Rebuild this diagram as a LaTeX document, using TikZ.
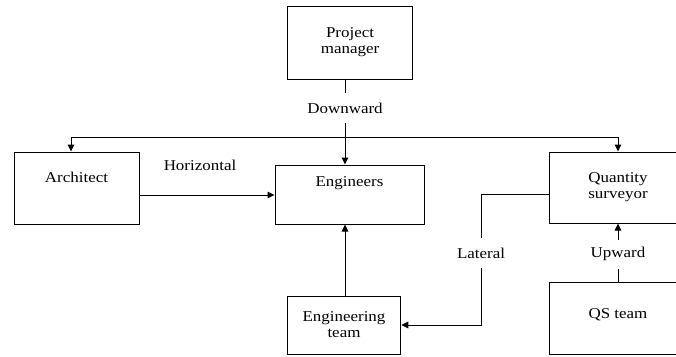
\documentclass[tikz,border=0pt]{standalone}
\usepackage{fontspec}
\setmainfont{Liberation Serif}[FakeStretch=1.13]
\usetikzlibrary{arrows.meta,positioning,calc}

\begin{document}
\begin{tikzpicture}[
            x=1pt, y=-1pt,
            every node/.style={
                font=\fontsize{15}{16}\selectfont
            },
            box/.style={
                draw,
                line width=1pt,
                align=center,
                inner sep=0pt
            },
            tag/.style={
                inner xsep=2pt,
                inner ysep=10pt
            },
            link/.style={
                line width=1pt
            },
            arr/.style={
                line width=1pt,
                -{Triangle[length=7pt,width=6.5pt]}
            }
        ]

            % Frame
            \useasboundingbox (0,0) rectangle (676,356);
            \clip (0,0) rectangle (676,356);

            % Layout parameters
            \def\xTrunk{345}    % vertical trunk x
            \def\yBus{137}      % distribution line y
            \def\xBusL{71}
            \def\xBusR{618}
            \def\xLat{481}      % lateral line x
            \def\yTag{253}

            % Boxes
            \node[box, minimum width=125pt, minimum height=73pt] (pm) at (350,42.5) {Project\\manager};
            \node[box, minimum width=125pt, minimum height=72pt, text height=11pt, text depth=23pt] (arch) at (76.5,188) {Architect};
            \node[box, minimum width=149pt, minimum height=59pt, text height=11pt, text depth=27pt] (eng) at (349.5,194.5) {Engineers};
            \node[box, minimum width=138pt, minimum height=71pt] (qs) at (618,187.5) {Quantity\\surveyor};
            \node[box, minimum width=113.5pt, minimum height=58pt] (et) at (344,325) {Engineering\\team};
            \node[box, minimum width=138pt, minimum height=72pt, text height=11pt, text depth=11pt] (qst) at (618,318) {QS team};

            % Line labels
            \node[tag] (dl) at (\xTrunk,108) {Downward};
            \node (hl) at (200,165) {Horizontal};
            \node[tag] (lat) at (\xLat,\yTag) {Lateral};
            \node[tag, inner ysep=7.5pt] (ul) at (\xBusR,254) {Upward};

            % Downward
            \coordinate (busL) at (\xBusL,\yBus);
            \coordinate (busR) at (\xBusR,\yBus);
            \draw[link] (pm.south -| dl) -- (dl);
            \draw[arr] (dl) -- (eng.north -| dl);
            \draw[link] (busL) -- (busR);
            \draw[arr] (busL) -- (busL |- arch.north);
            \draw[arr] (busR) -- (busR |- qs.north);

            % Horizontal
            \draw[arr] ([yshift=-7pt]arch.east) -- ([yshift=-7pt]arch.east -| eng.west);

            % Engineering team up to engineers
            \draw[arr] (et.north -| dl) -- (eng.south -| dl);

            % Lateral
            \draw[link] ([yshift=-6.5pt]qs.west) -| (lat);
            \draw[arr] (lat) |- (et.east);

            % Upward
            \draw[link] (qst.north -| ul) -- (ul);
            \draw[arr] (ul) -- (qs.south -| ul);

        \end{tikzpicture}
\end{document}
